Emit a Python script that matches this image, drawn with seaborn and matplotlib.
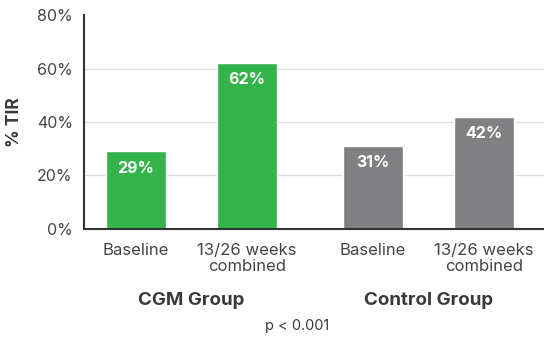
import matplotlib.pyplot as plt
import seaborn as sns
import pandas as pd

# data
groups = ["CGM Group", "CGM Group", "Control Group", "Control Group"]
timepoints = ["Baseline", "13/26 weeks\ncombined", "Baseline", "13/26 weeks\ncombined"]
tir = [29, 62, 31, 42]
bar_ids = ["cgm_base", "cgm_wk", "ctl_base", "ctl_wk"]
positions = [0, 1, 2.135, 3.135]
bar_colors = ["#34b34a", "#34b34a", "#808083", "#808083"]
p_text = "p < 0.001"

df = pd.DataFrame({"pos": positions, "tir": tir, "bar": bar_ids, "time": timepoints, "group": groups})

sns.set_theme(style="white")
plt.rcParams["font.family"] = ["Inter", "DejaVu Sans"]
txt = "#3a3a3a"

fig = plt.figure(figsize=(5.44, 3.38), dpi=100)
ax = fig.add_axes([0.154, 0.3225, 0.846, 0.6331])

sns.barplot(data=df, x="pos", y="tir", hue="bar", palette=bar_colors, native_scale=True,
            width=0.54, dodge=False, legend=False, saturation=1, ax=ax)

ax.set_xlim(-0.468, 3.675)
ax.set_ylim(0, 80)
ax.set_yticks([0, 20, 40, 60, 80])
ax.set_yticklabels([f"{v}%" for v in [0, 20, 40, 60, 80]], fontsize=11.5, color="#444444")
for v in [20, 40, 60]:
    ax.axhline(v, color="#dddddd", lw=0.9, zorder=0)

ax.set_xticks(positions)
ax.set_xticklabels(timepoints, fontsize=12, color="#444444", linespacing=1.1)
ax.tick_params(axis="both", length=0, pad=8)
ax.tick_params(axis="x", pad=10)
ax.set_xlabel("")
ax.set_ylabel("% TIR", fontsize=12.5, fontweight="bold", color=txt, labelpad=10)

for s in ["top", "right"]:
    ax.spines[s].set_visible(False)
for s in ["left", "bottom"]:
    ax.spines[s].set_color("#333333")
    ax.spines[s].set_linewidth(1.5)

for x, v in zip(positions, tir):
    ax.annotate(f"{v}%", (x, v), xytext=(0, -12), textcoords="offset points",
                ha="center", va="center", color="white", fontsize=11.5, fontweight="bold")

# group labels
for g in ["CGM Group", "Control Group"]:
    xs = df.loc[df["group"] == g, "pos"]
    ax.text(xs.mean(), -0.335, g, transform=ax.get_xaxis_transform(), ha="center", va="center",
            fontsize=13.5, fontweight="bold", color=txt)

fig.text(0.546, 0.035, p_text, ha="center", va="center", fontsize=10.5, color=txt)

fig.savefig("out.png", dpi=100)
